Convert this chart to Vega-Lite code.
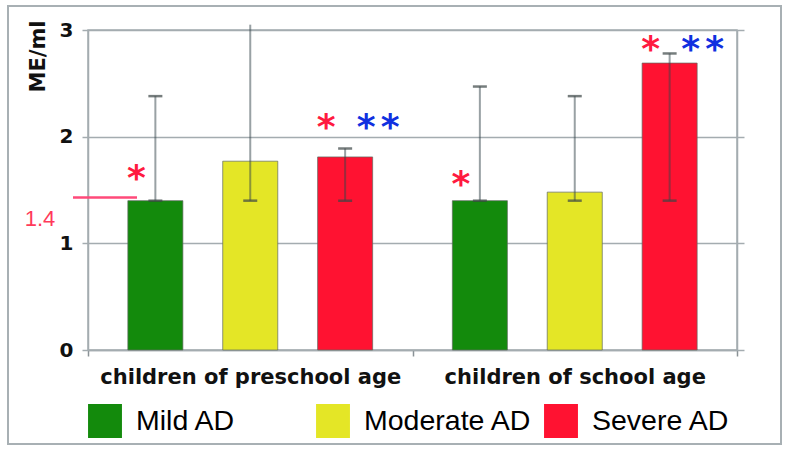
{
  "$schema": "https://vega.github.io/schema/vega-lite/v6.json",
  "width": 649,
  "height": 320,
  "autosize": {"type": "none"},
  "padding": {"left": 88, "top": 30, "right": 51, "bottom": 100},
  "background": "white",
  "config": {"view": {"stroke": "#a4acb0", "strokeWidth": 1.5}, "font": "DejaVu Sans"},
  "datasets": {
    "bars": [
      {"group": "children of preschool age", "severity": "Mild AD", "value": 1.40, "lo": 1.40, "hi": 2.38},
      {"group": "children of preschool age", "severity": "Moderate AD", "value": 1.77, "lo": 1.40, "hi": 3.05},
      {"group": "children of preschool age", "severity": "Severe AD", "value": 1.81, "lo": 1.40, "hi": 1.89},
      {"group": "children of school age", "severity": "Mild AD", "value": 1.40, "lo": 1.40, "hi": 2.47},
      {"group": "children of school age", "severity": "Moderate AD", "value": 1.48, "lo": 1.40, "hi": 2.38},
      {"group": "children of school age", "severity": "Severe AD", "value": 2.69, "lo": 1.40, "hi": 2.78}
    ],
    "stars": [
      {"group": "children of preschool age", "severity": "Mild AD", "pos": 1.66, "marker": "*"},
      {"group": "children of preschool age", "severity": "Severe AD", "pos": 2.14, "marker": "*"},
      {"group": "children of preschool age", "severity": "Severe AD", "pos": 2.14, "marker": "**"},
      {"group": "children of school age", "severity": "Mild AD", "pos": 1.60, "marker": "*"},
      {"group": "children of school age", "severity": "Severe AD", "pos": 2.87, "marker": "*"},
      {"group": "children of school age", "severity": "Severe AD", "pos": 2.87, "marker": "**"}
    ]
  },
  "layer": [
    {
      "data": {"values": [{}]},
      "mark": {"type": "rect", "filled": false, "stroke": "#a8b0b4", "strokeWidth": 2},
      "encoding": {"x": {"value": -80}, "x2": {"value": 693}, "y": {"value": -24}, "y2": {"value": 414}}
    },
    {
      "data": {"name": "bars"},
      "mark": {"type": "bar", "stroke": "#5f6a60", "strokeWidth": 1, "strokeOpacity": 0.7},
      "encoding": {
        "x": {
          "field": "group", "type": "nominal",
          "sort": ["children of preschool age", "children of school age"],
          "scale": {"paddingInner": 0, "paddingOuter": 0},
          "axis": {"title": null, "labelAngle": 0, "labelFontSize": 21, "labelFontWeight": "bold", "labelColor": "#111111",
                   "labelLimit": 500, "tickBand": "extent", "tickSize": 6, "tickColor": "#8a9296", "tickWidth": 1.5,
                   "domainColor": "#a4acb0", "domainWidth": 1.5, "labelPadding": 10}
        },
        "xOffset": {"field": "severity", "type": "nominal", "sort": ["Mild AD", "Moderate AD", "Severe AD"],
                    "scale": {"paddingInner": 0.42, "paddingOuter": 0.42}},
        "y": {
          "field": "value", "type": "quantitative", "scale": {"domain": [0, 3], "nice": false},
          "axis": {"title": "ME/ml", "values": [0, 1, 2, 3], "format": "d", "labelFontSize": 20, "labelFontWeight": "bold",
                   "labelColor": "#111111", "tickSize": 6, "tickColor": "#a4acb0", "tickWidth": 1.5,
                   "gridColor": "#a4acb0", "gridWidth": 1.5, "domainColor": "#a4acb0", "domainWidth": 1.5, "labelPadding": 9,
                   "titleFontSize": 21, "titleFontWeight": "bold", "titleColor": "#111111", "titleAngle": 270,
                   "titleX": -44, "titleY": 26, "titleAlign": "center", "titleBaseline": "alphabetic"}
        },
        "color": {
          "field": "severity", "type": "nominal",
          "scale": {"domain": ["Mild AD", "Moderate AD", "Severe AD"], "range": ["#138a0c", "#e4e626", "#ff1231"]},
          "legend": {"title": null, "orient": "none", "legendX": 0, "legendY": 374, "direction": "horizontal",
                     "symbolType": "square", "symbolSize": 1150, "symbolStrokeWidth": 0, "symbolOpacity": 1,
                     "labelFont": "Liberation Sans", "labelFontSize": 28.5, "labelOffset": 14, "columnPadding": 12, "gridAlign": "all",
                     "padding": 0, "labelLimit": 300,
                     "encode": {"labels": {"update": {"fill": {"signal": "datum.value === 'Moderate AD' ? '#b9c61e' : datum.value === 'Mild AD' ? '#1a8c14' : '#ff1a3a'"}}}}}
        }
      }
    },
    {
      "data": {"name": "bars"},
      "mark": {"type": "rule", "color": "#34444a", "opacity": 0.5, "strokeWidth": 2},
      "encoding": {
        "x": {"field": "group", "type": "nominal", "sort": ["children of preschool age", "children of school age"]},
        "xOffset": {"field": "severity", "type": "nominal", "sort": ["Mild AD", "Moderate AD", "Severe AD"]},
        "y": {"field": "lo", "type": "quantitative",
              "axis": {"orient": "right", "title": null, "labels": false, "grid": false, "ticks": true, "tickSize": 7,
                       "values": [0, 1, 2, 3], "domainColor": "#a4acb0", "tickColor": "#a4acb0", "domainWidth": 1.5, "tickWidth": 1.5}},
        "y2": {"field": "hi"}
      }
    },
    {
      "data": {"name": "bars"},
      "mark": {"type": "tick", "color": "#3c4646", "size": 14, "thickness": 2.5},
      "encoding": {
        "x": {"field": "group", "type": "nominal", "sort": ["children of preschool age", "children of school age"]},
        "xOffset": {"field": "severity", "type": "nominal", "sort": ["Mild AD", "Moderate AD", "Severe AD"]},
        "y": {"field": "lo", "type": "quantitative", "axis": null}
      }
    },
    {
      "data": {"name": "bars"},
      "transform": [{"filter": "datum.hi <= 3"}],
      "mark": {"type": "tick", "color": "#3c4646", "size": 14, "thickness": 2.5},
      "encoding": {
        "x": {"field": "group", "type": "nominal", "sort": ["children of preschool age", "children of school age"]},
        "xOffset": {"field": "severity", "type": "nominal", "sort": ["Mild AD", "Moderate AD", "Severe AD"]},
        "y": {"field": "hi", "type": "quantitative", "axis": null}
      }
    },
    {
      "data": {"values": [{}]},
      "mark": {"type": "rule", "color": "#ff4a7a", "strokeWidth": 2.5},
      "encoding": {"y": {"datum": 1.43, "type": "quantitative", "axis": null}, "x": {"value": -15}, "x2": {"value": 49}}
    },
    {
      "data": {"values": [{}]},
      "mark": {"type": "text", "text": "1.4", "font": "Liberation Sans", "color": "#ff3a5a", "fontSize": 22, "align": "center", "baseline": "middle", "dy": 18},
      "encoding": {"y": {"datum": 1.4, "type": "quantitative", "axis": null}, "x": {"value": -48}}
    },
    {
      "data": {"name": "stars"},
      "transform": [{"filter": "datum.marker === '*'"}],
      "mark": {"type": "text", "text": "*", "color": "#ff1a40", "fontSize": 36, "fontWeight": "bold", "align": "center", "baseline": "alphabetic", "dx": -19, "dy": 17},
      "encoding": {
        "x": {"field": "group", "type": "nominal", "sort": ["children of preschool age", "children of school age"]},
        "xOffset": {"field": "severity", "type": "nominal", "sort": ["Mild AD", "Moderate AD", "Severe AD"]},
        "y": {"field": "pos", "type": "quantitative", "axis": null}
      }
    },
    {
      "data": {"name": "stars"},
      "transform": [{"filter": "datum.marker === '**'"}],
      "mark": {"type": "text", "text": "*", "color": "#1030e0", "fontSize": 36, "fontWeight": "bold", "align": "center", "baseline": "alphabetic", "dx": 21, "dy": 17},
      "encoding": {
        "x": {"field": "group", "type": "nominal", "sort": ["children of preschool age", "children of school age"]},
        "xOffset": {"field": "severity", "type": "nominal", "sort": ["Mild AD", "Moderate AD", "Severe AD"]},
        "y": {"field": "pos", "type": "quantitative", "axis": null}
      }
    },
    {
      "data": {"name": "stars"},
      "transform": [{"filter": "datum.marker === '**'"}],
      "mark": {"type": "text", "text": "*", "color": "#1030e0", "fontSize": 36, "fontWeight": "bold", "align": "center", "baseline": "alphabetic", "dx": 45, "dy": 17},
      "encoding": {
        "x": {"field": "group", "type": "nominal", "sort": ["children of preschool age", "children of school age"]},
        "xOffset": {"field": "severity", "type": "nominal", "sort": ["Mild AD", "Moderate AD", "Severe AD"]},
        "y": {"field": "pos", "type": "quantitative", "axis": null}
      }
    }
  ],
  "resolve": {"axis": {"y": "independent"}}
}
